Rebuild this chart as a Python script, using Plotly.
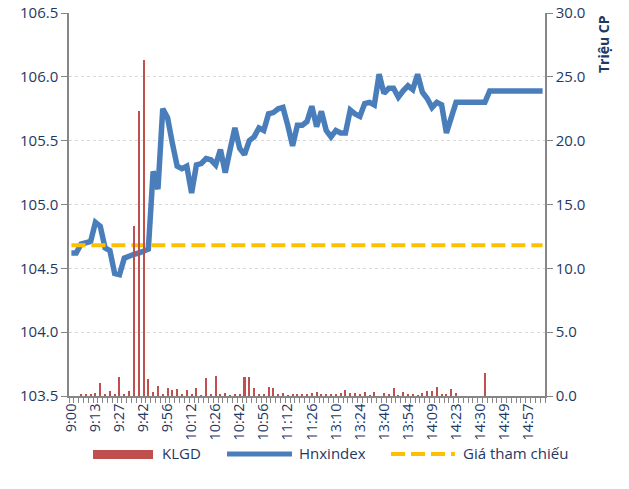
import plotly.graph_objects as go

tick_labels = ["9:00", "9:13", "9:27", "9:42", "9:56", "10:12", "10:26", "10:42", "10:56",
               "11:12", "11:26", "13:10", "13:24", "13:40", "13:54", "14:09", "14:23",
               "14:30", "14:49", "14:57"]

hnxindex = [104.62, 104.62, 104.69, 104.70, 104.71, 104.86, 104.83, 104.66, 104.64, 104.46,
            104.45, 104.58, 104.60, 104.61, 104.62, 104.63, 104.65, 105.26, 105.12, 105.75,
            105.68, 105.48, 105.30, 105.28, 105.30, 105.09, 105.31, 105.32, 105.36, 105.35,
            105.31, 105.43, 105.25, 105.43, 105.60, 105.44, 105.39, 105.50, 105.53, 105.60,
            105.58, 105.71, 105.72, 105.75, 105.76, 105.62, 105.46, 105.62, 105.62, 105.65,
            105.77, 105.61, 105.73, 105.58, 105.53, 105.58, 105.56, 105.56, 105.74, 105.71,
            105.69, 105.79, 105.80, 105.78, 106.02, 105.87, 105.91, 105.91, 105.84, 105.89,
            105.93, 105.90, 106.02, 105.88, 105.83, 105.76, 105.80, 105.78, 105.56, 105.68,
            105.80, 105.80, 105.80, 105.80, 105.80, 105.80, 105.80, 105.89, 105.89, 105.89,
            105.89, 105.89, 105.89, 105.89, 105.89, 105.89, 105.89, 105.89, 105.89]

klgd = [0.00, 0.00, 0.13, 0.10, 0.16, 0.20, 1.00, 0.13, 0.40, 0.10,
        1.50, 0.08, 0.40, 13.3, 22.3, 26.3, 1.30, 0.30, 0.80, 0.08,
        0.65, 0.50, 0.55, 0.10, 0.50, 0.15, 0.60, 0.05, 1.40, 0.15,
        1.55, 0.13, 0.25, 0.03, 0.13, 0.08, 1.50, 1.45, 0.65, 0.13,
        0.15, 0.70, 0.65, 0.15, 0.20, 0.03, 0.08, 0.16, 0.08, 0.16,
        0.20, 0.29, 0.13, 0.13, 0.13, 0.08, 0.20, 0.47, 0.20, 0.20,
        0.13, 0.34, 0.03, 0.31, 0.00, 0.20, 0.08, 0.60, 0.05, 0.29,
        0.10, 0.10, 0.03, 0.20, 0.39, 0.42, 0.68, 0.16, 0.16, 0.52,
        0.20, 0.00, 0.00, 0.00, 0.00, 0.00, 1.83, 0.00, 0.00, 0.00,
        0.00, 0.00, 0.00, 0.00, 0.00, 0.00, 0.00, 0.00, 0.00]

gia_tham_chieu = 104.68
label_step = 5

n = len(hnxindex)
idx = list(range(n))
tickvals = [i * label_step for i in range(len(tick_labels))]

RED = "#C0504D"
BLUE = "#4A7EBB"
GOLD = "#FFC000"
NAVY = "#1F3864"
AXIS = "#868686"
FONT = "Open Sans"

L, T, R, B = 69, 13, 629 - 545, 489 - 396

fig = go.Figure()
fig.add_trace(go.Bar(x=idx, y=klgd, yaxis="y2", marker=dict(color=RED, line=dict(width=0)),
                     width=0.42, name="KLGD", showlegend=False))
fig.add_trace(go.Scatter(x=idx, y=hnxindex, mode="lines", line=dict(color=BLUE, width=5.5),
                         name="Hnxindex", showlegend=False))
fig.add_trace(go.Scatter(x=idx, y=[gia_tham_chieu] * n, mode="lines",
                         line=dict(color=GOLD, width=4, dash="14px,6px"),
                         name="Giá tham chiếu", showlegend=False))

fig.update_layout(
    width=629, height=489,
    margin=dict(l=L, r=R, t=T, b=B, autoexpand=False),
    paper_bgcolor="white", plot_bgcolor="white",
    font=dict(family=FONT, color=NAVY),
    bargap=0,
    xaxis=dict(range=[-0.5, n - 0.5], tickmode="array", tickvals=tickvals, ticktext=tick_labels,
               tickangle=-90, tickfont=dict(size=14.5, color=NAVY), showgrid=False, zeroline=False,
               showline=True, linecolor=AXIS, linewidth=1.5, ticks="", automargin=False,
               minor=dict(ticks="outside", tick0=-0.5, dtick=1, ticklen=5, tickcolor=AXIS,
                          tickwidth=1, showgrid=False)),
    yaxis=dict(range=[103.5, 106.5], dtick=0.5, tick0=103.5, tickformat=".1f", automargin=False,
               tickfont=dict(size=15, color=NAVY), showgrid=True, gridcolor="#D9D9D9",
               griddash="dot", gridwidth=1, zeroline=False, showline=True, linecolor=AXIS,
               linewidth=1.5, ticks="outside", ticklen=6, tickcolor=AXIS),
    yaxis2=dict(range=[0, 30], dtick=5, tick0=0, tickformat=".1f", overlaying="y", side="right",
                automargin=False,
                tickfont=dict(size=15, color=NAVY), showgrid=False, zeroline=False, showline=True,
                linecolor=AXIS, linewidth=1.5, ticks="outside", ticklen=6, tickcolor=AXIS),
)

PW = 629 - L - R
PH = 489 - T - B


def px_x(p):
    return (p - L) / PW


def px_y(p):
    return (489 - B - p) / PH


# axis title on the right
fig.add_annotation(text="<b>Triệu CP</b>", xref="paper", yref="paper", x=px_x(603), y=px_y(13),
                   xanchor="center", yanchor="top", textangle=-90, showarrow=False,
                   font=dict(size=14, color=NAVY, family=FONT))

# manual legend
shapes = [
    dict(type="rect", xref="paper", yref="paper", x0=px_x(93), x1=px_x(153), y0=px_y(450), y1=px_y(459),
         fillcolor=RED, line=dict(width=0)),
    dict(type="line", xref="paper", yref="paper", x0=px_x(227), x1=px_x(292), y0=px_y(454), y1=px_y(454),
         line=dict(color=BLUE, width=5)),
    dict(type="line", xref="paper", yref="paper", x0=px_x(391), x1=px_x(455), y0=px_y(454), y1=px_y(454),
         line=dict(color=GOLD, width=4, dash="14px,6px")),
]
fig.update_layout(shapes=shapes)
for name, xp in [("KLGD", 160), ("Hnxindex", 297), ("Giá tham chiếu", 461)]:
    fig.add_annotation(text=name, xref="paper", yref="paper", x=px_x(xp), y=px_y(453),
                       xanchor="left", yanchor="middle", showarrow=False,
                       font=dict(size=15, color=NAVY, family=FONT))

fig.write_html("out.html", config={"displayModeBar": False},
               post_script="document.body.style.margin='0';")
